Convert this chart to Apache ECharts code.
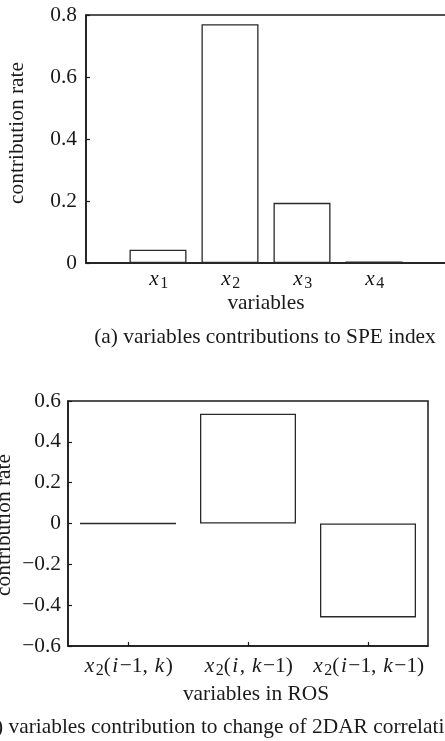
<!DOCTYPE html>
<html><head><meta charset="utf-8">
<script src="https://cdn.jsdelivr.net/npm/echarts@6/dist/echarts.min.js"></script>
<style>html,body{margin:0;padding:0;background:#fff}#c{width:445px;height:741px}</style>
</head><body><div id="c"></div>
<script>
// ---- Chart (a): variables contributions to SPE index ----
const catsA = ['x1', 'x2', 'x3', 'x4'];
const posA = [1, 2, 3, 4];
const valuesA = [0.043, 0.770, 0.194, 0.005];
const yMinA = 0, yMaxA = 0.8, yStepA = 0.2;

// ---- Chart (b): variables contribution to change of 2DAR correlation ----
const catsB = ['x2(i−1, k)', 'x2(i, k−1)', 'x2(i−1, k−1)'];
const valuesB = [0, 0.538, -0.46];
const yMinB = -0.6, yMaxB = 0.6, yStepB = 0.2;

const titleA = '(a) variables contributions to SPE index';
const titleB = '(b) variables contribution to change of 2DAR correlation';
const yNameA = 'contribution rate', yNameB = 'contribution rate';
const xNameA = 'variables', xNameB = 'variables in ROS';

const FONT = '"Liberation Serif", "Times New Roman", serif';
const INK = '#1a1a1a';
const BAR = '#2a2a2a';

function richLabel(s) {
  let out = '';
  for (let j = 0; j < s.length; j++) {
    const ch = s[j];
    if (/[xik]/.test(ch)) out += '{it|' + ch + '}';
    else if (/\d/.test(ch) && s[j - 1] === 'x') out += '{sub|' + ch + '}';
    else out += '{n|' + ch + '}';
  }
  return out;
}
const rich = {
  it: { fontFamily: FONT, fontStyle: 'italic', fontSize: 21.4, color: INK, padding: [0, 1.5, 0, 1.5] },
  sub: { fontFamily: FONT, fontSize: 16, color: INK, padding: [9, 0, 0, 0] },
  n: { fontFamily: FONT, fontSize: 21.4, color: INK }
};
function fmtY(v) {
  if (Math.abs(v) < 1e-9) return '0';
  return (v < 0 ? '−' : '') + Math.abs(v).toFixed(1);
}

const chart = echarts.init(document.getElementById('c'), null, { renderer: 'canvas' });
chart.setOption({
  backgroundColor: '#fff',
  animation: false,
  textStyle: { fontFamily: FONT },
  grid: [
    { left: 86, top: 15, width: 360, height: 248, show: true, borderColor: INK, borderWidth: 1.5, backgroundColor: 'transparent', containLabel: false, outerBoundsMode: 'none' },
    { left: 68, top: 401, width: 360, height: 245, show: true, borderColor: INK, borderWidth: 1.5, backgroundColor: 'transparent', containLabel: false, outerBoundsMode: 'none' }
  ],
  xAxis: [
    {
      gridIndex: 0, type: 'value', min: 0, max: 5, interval: 1,
      axisLine: { show: true, lineStyle: { color: INK, width: 1.5 } },
      axisTick: { show: false }, splitLine: { show: false },
      axisLabel: {
        margin: 4, hideOverlap: false,
        formatter: v => (v >= 1 && v <= catsA.length) ? richLabel(catsA[v - 1]) : '',
        rich: rich
      },
      name: xNameA, nameLocation: 'middle', nameGap: 28,
      nameTextStyle: { fontFamily: FONT, fontSize: 21.4, color: INK }
    },
    {
      gridIndex: 1, type: 'category', data: catsB, boundaryGap: true,
      axisLine: { show: true, onZero: false, lineStyle: { color: INK, width: 1.5 } },
      axisTick: { show: true, inside: true, alignWithLabel: true, interval: 0, length: 4, lineStyle: { color: INK, width: 1.2 } },
      splitLine: { show: false },
      axisLabel: { margin: 8, interval: 0, hideOverlap: false, formatter: v => richLabel(v), rich: rich },
      name: xNameB, nameLocation: 'middle', nameGap: 38,
      nameTextStyle: { fontFamily: FONT, fontSize: 21.4, color: INK, padding: [0, 0, 0, 16] }
    }
  ],
  yAxis: [
    {
      gridIndex: 0, type: 'value', min: yMinA, max: yMaxA, interval: yStepA,
      axisLine: { show: true, lineStyle: { color: INK, width: 1.5 } },
      axisTick: { show: true, inside: true, length: 4, lineStyle: { color: INK, width: 1.2 } },
      splitLine: { show: false },
      axisLabel: { margin: 9, fontFamily: FONT, fontSize: 21.4, color: INK, formatter: fmtY }
    },
    {
      gridIndex: 1, type: 'value', min: yMinB, max: yMaxB, interval: yStepB,
      axisLine: { show: true, lineStyle: { color: INK, width: 1.5 } },
      axisTick: { show: true, inside: true, length: 4, lineStyle: { color: INK, width: 1.2 } },
      splitLine: { show: false },
      axisLabel: { margin: 7, fontFamily: FONT, fontSize: 21.4, color: INK, formatter: fmtY }
    }
  ],
  series: [
    {
      type: 'bar', xAxisIndex: 0, yAxisIndex: 0, barWidth: 57,
      data: posA.map((p, i) => [p, valuesA[i]]),
      itemStyle: { color: '#fff', borderColor: BAR, borderWidth: 1.3 }
    },
    {
      type: 'bar', xAxisIndex: 1, yAxisIndex: 1, barCategoryGap: '20%',
      data: valuesB,
      itemStyle: { color: '#fff', borderColor: BAR, borderWidth: 1.3 }
    }
  ],
  graphic: [
    { type: 'text', x: 17, y: 133, rotation: Math.PI / 2,
      style: { text: yNameA, font: '21.4px ' + FONT, fill: INK, align: 'center', verticalAlign: 'middle' } },
    { type: 'text', x: 4, y: 525, rotation: Math.PI / 2,
      style: { text: yNameB, font: '21.4px ' + FONT, fill: INK, align: 'center', verticalAlign: 'middle' } },
    { type: 'text', x: 265, y: 337,
      style: { text: titleA, font: '21.4px ' + FONT, fill: INK, align: 'center', verticalAlign: 'middle' } },
    { type: 'text', x: 222, y: 727,
      style: { text: titleB, font: '21.4px ' + FONT, fill: INK, align: 'center', verticalAlign: 'middle' } }
  ]
});
</script></body></html>
